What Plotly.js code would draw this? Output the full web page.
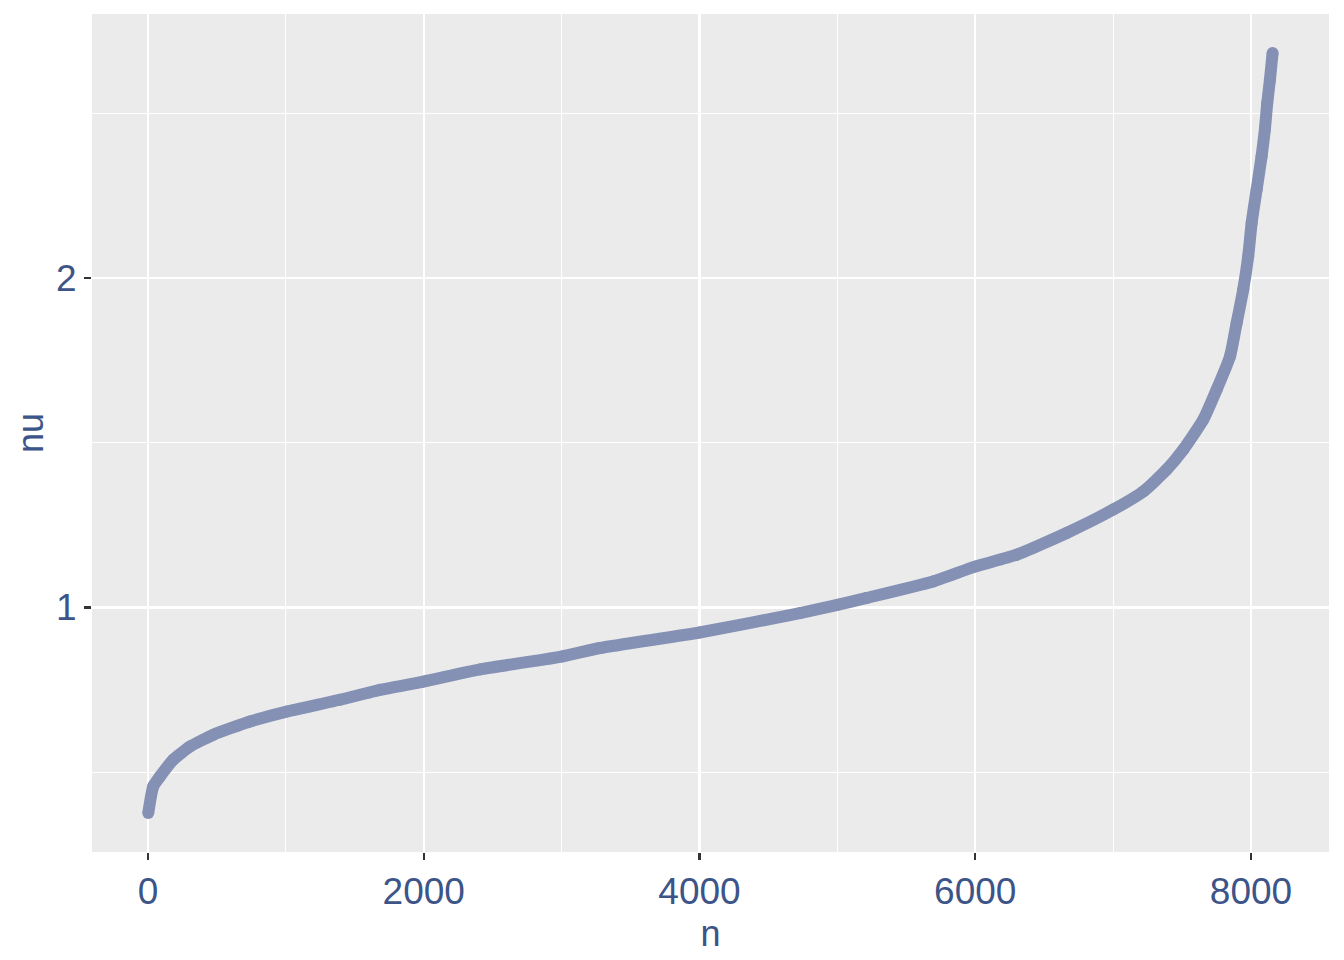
<!DOCTYPE html>
<html>
<head>
<meta charset="utf-8">
<script src="https://cdn.plot.ly/plotly-3.0.1.min.js"></script>
<style>html,body{margin:0;padding:0;background:#fff;}#chart{width:1344px;height:960px;}</style>
</head>
<body>
<div id="chart"></div>
<script>
// Values
const n  = [2, 38, 87, 183, 305, 474, 740, 1006, 1392, 1683, 1997, 2408, 3000, 3278, 4001, 4729, 5001, 5213, 5695, 5998, 6300, 6663, 7001, 7219, 7388, 7509, 7654, 7751, 7848, 7896, 7944, 7980, 8005, 8041, 8077, 8101, 8118, 8138, 8157];
const nu = [0.376, 0.457, 0.487, 0.538, 0.578, 0.614, 0.654, 0.684, 0.720, 0.750, 0.775, 0.812, 0.851, 0.877, 0.924, 0.983, 1.008, 1.029, 1.079, 1.124, 1.160, 1.226, 1.297, 1.352, 1.418, 1.479, 1.570, 1.661, 1.762, 1.863, 1.965, 2.066, 2.167, 2.268, 2.369, 2.451, 2.531, 2.603, 2.683];
const xTicks = [0, 2000, 4000, 6000, 8000];
const xMinor = [1000, 3000, 5000, 7000];
const yTicks = [1, 2];
const yMinor = [0.5, 1.5, 2.5];
const xLabel = "n";
const yLabel = "nu";

const textColor = "#3C5488";
const pointColor = "#8491B4";
const fontFam = "Liberation Sans, Arial, Helvetica, sans-serif";

const trace = {
  x: n, y: nu, type: "scatter", mode: "lines+markers",
  line: {color: pointColor, width: 12, shape: "spline", smoothing: 0.5},
  marker: {color: pointColor, size: 12, line: {width: 0}},
  hoverinfo: "x+y"
};

const layout = {
  width: 1344, height: 960,
  margin: {l: 92, r: 15, t: 14, b: 108, pad: 0},
  paper_bgcolor: "#FFFFFF", plot_bgcolor: "#EBEBEB",
  showlegend: false,
  font: {family: fontFam, color: textColor, size: 36},
  xaxis: {
    range: [-406, 8566], tickmode: "array", tickvals: xTicks, ticktext: xTicks.map(String),
    showgrid: true, gridcolor: "#FFFFFF", gridwidth: 2.1,
    minor: {tickmode: "array", tickvals: xMinor, showgrid: true, gridcolor: "#FFFFFF", gridwidth: 1.1, ticks: ""},
    zeroline: false, showline: false,
    ticks: "outside", ticklen: 7, tickwidth: 2.1, tickcolor: "#333333",
    tickfont: {family: fontFam, size: 37, color: textColor},
    title: {text: xLabel, font: {family: fontFam, size: 36, color: textColor}, standoff: 9}
  },
  yaxis: {
    range: [0.258, 2.801], tickmode: "array", tickvals: yTicks, ticktext: yTicks.map(String),
    showgrid: true, gridcolor: "#FFFFFF", gridwidth: 2.1,
    minor: {tickmode: "array", tickvals: yMinor, showgrid: true, gridcolor: "#FFFFFF", gridwidth: 1.1, ticks: ""},
    zeroline: false, showline: false,
    ticks: "outside", ticklen: 7, tickwidth: 2.1, tickcolor: "#333333",
    tickfont: {family: fontFam, size: 37, color: textColor},
    title: {text: yLabel, font: {family: fontFam, size: 36, color: textColor}, standoff: 1}
  }
};

Plotly.newPlot("chart", [trace], layout, {displayModeBar: false, staticPlot: true});
</script>
</body>
</html>
